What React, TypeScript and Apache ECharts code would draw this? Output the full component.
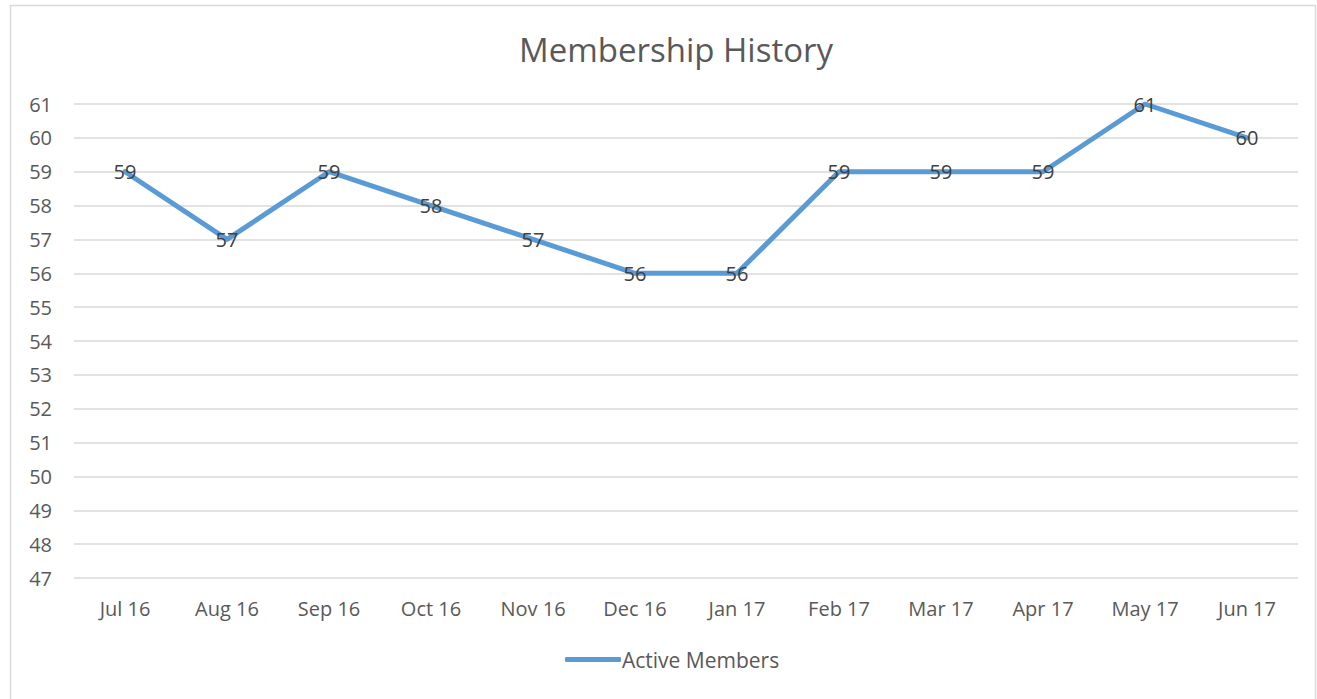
import React, { useEffect, useRef } from "react";
import * as echarts from "echarts";

const categories = ["Jul 16", "Aug 16", "Sep 16", "Oct 16", "Nov 16", "Dec 16", "Jan 17", "Feb 17", "Mar 17", "Apr 17", "May 17", "Jun 17"];
const activeMembers = [59, 57, 59, 58, 57, 56, 56, 59, 59, 59, 61, 60];
const seriesName = "Active Members";
const titleText = "Membership History";

export default function App() {
  const ref = useRef<HTMLDivElement>(null);
  useEffect(() => {
    if (!ref.current) return;
    const chart = echarts.init(ref.current, undefined, { renderer: "svg" });
    const font = "Open Sans, Calibri, Carlito, sans-serif";
    chart.setOption({
      animation: false,
      backgroundColor: "#ffffff",
      title: {
        text: titleText,
        left: 514,
        top: 28,
        textStyle: { fontFamily: font, fontSize: 33, fontWeight: "normal", color: "#595959" },
      },
      graphic: [
        {
          type: "rect",
          shape: { x: 10.5, y: 5.5, width: 1305, height: 700 },
          style: { fill: "none", stroke: "#d9d9d9", lineWidth: 1.5 },
          silent: true,
        },
      ],
      legend: {
        bottom: 24,
        left: 560,
        itemWidth: 56,
        itemHeight: 5,
        itemGap: 4,
        data: [{ name: seriesName, icon: "roundRect" }],
        textStyle: { fontFamily: font, fontSize: 21, color: "#595959", padding: [0, 0, 0, -4] },
      },
      grid: { left: 74, right: 19, top: 104, bottom: 121, containLabel: false },
      xAxis: {
        type: "category",
        data: categories,
        boundaryGap: true,
        axisLine: { show: false },
        axisTick: { show: false },
        axisLabel: { fontFamily: font, fontSize: 20, color: "#595959", margin: 20 },
      },
      yAxis: {
        type: "value",
        min: 47,
        max: 61,
        interval: 1,
        axisLine: { show: false },
        axisTick: { show: false },
        axisLabel: { fontFamily: font, fontSize: 20, color: "#595959", margin: 22 },
        splitLine: { lineStyle: { color: "#d9d9d9", width: 1.5 } },
      },
      series: [
        {
          name: seriesName,
          type: "line",
          data: activeMembers,
          showSymbol: true,
          symbol: "circle",
          symbolSize: 1,
          lineStyle: { color: "#5B9BD5", width: 5, cap: "round", join: "round" },
          itemStyle: { color: "#5B9BD5" },
          label: {
            show: true,
            position: "inside",
            fontFamily: font,
            fontSize: 20,
            color: "#404040",
          },
        },
      ],
    });
    return () => chart.dispose();
  }, []);
  return (
    <div
      ref={ref}
      style={{ position: "fixed", left: 0, top: 0, width: 1317, height: 699 }}
    />
  );
}
